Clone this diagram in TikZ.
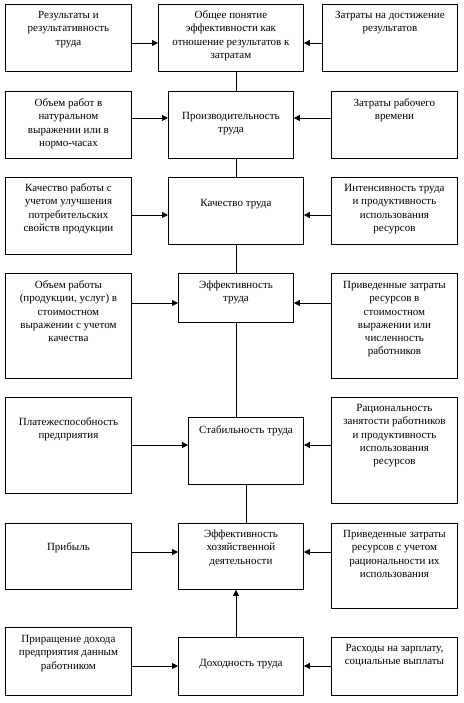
\documentclass[tikz,border=0pt]{standalone}
\usepackage{fontspec}
\setmainfont{Liberation Serif}
\usetikzlibrary{arrows.meta}
\tikzset{
  bx/.style={draw, line width=0.9pt, inner sep=0pt, anchor=north west, font=\fontsize{11}{13.3}\selectfont},
  conn/.style={line width=0.9pt},
  arr/.style={line width=0.9pt, -{Triangle[length=6pt,width=6pt]}}
}
\newcommand{\bx}[7]{\node[bx] (#1) at (#2,#3) {\parbox[c][\dimexpr #5pt - #3pt\relax][t]{\dimexpr #4pt - #2pt\relax}{\centering\rule{0pt}{#6pt}#7}};}
\begin{document}
\begin{tikzpicture}[x=1pt,y=-1pt]
\useasboundingbox (0,0) rectangle (463,703);
\fill[white] (0,0) rectangle (463,703);
% row 1
\bx{L1}{5}{4}{131}{71}{14}{Результаты и\\результативность\\труда}
\bx{C1}{158}{4}{303}{71}{14}{Общее понятие\\эффективности как\\отношение результатов к\\затратам}
\bx{R1}{322}{4}{457}{71}{14}{Затраты на достижение\\результатов}
% row 2
\bx{L2}{5}{91}{131}{158}{15}{Объем работ в\\натуральном\\выражении или в\\нормо-часах}
\bx{C2}{168}{91}{293}{158}{28}{Производительность\\труда}
\bx{R2}{331}{91}{457}{158}{15}{Затраты рабочего\\времени}
% row 3
\bx{L3}{5}{177}{131}{254}{14}{Качество работы с\\учетом улучшения\\потребительских\\свойств продукции}
\bx{C3}{168}{177}{303}{244}{29}{Качество труда}
\bx{R3}{331}{177}{457}{244}{14}{Интенсивность труда\\и продуктивность\\использования\\ресурсов}
% row 4
\bx{L4}{5}{273}{131}{378}{15}{Объем работы\\(продукции, услуг) в\\стоимостном\\выражении с учетом\\качества}
\bx{C4}{178}{273}{293}{322}{15}{Эффективность\\труда}
\bx{R4}{331}{273}{457}{378}{15}{Приведенные затраты\\ресурсов в\\стоимостном\\выражении или\\численность\\работников}
% row 5
\bx{L5}{5}{397}{131}{493}{28}{Платежеспособность\\предприятия}
\bx{C5}{188}{417}{303}{484}{16}{Стабильность труда}
\bx{R5}{331}{397}{457}{503}{14}{Рациональность\\занятости работников\\и продуктивность\\использования\\ресурсов}
% row 6
\bx{L6}{5}{523}{131}{589}{27}{Прибыль}
\bx{C6}{178}{523}{303}{589}{14}{Эффективность\\хозяйственной\\деятельности}
\bx{R6}{331}{523}{457}{608}{14}{Приведенные затраты\\ресурсов с учетом\\рациональности их\\использования}
% row 7
\bx{L7}{5}{627}{131}{695}{15}{Приращение дохода\\предприятия данным\\работником}
\bx{C7}{178}{637}{303}{695}{29}{Доходность труда}
\bx{R7}{331}{637}{457}{695}{14}{Расходы на зарплату,\\социальные выплаты}
% horizontal arrows
\foreach \r/\y in {1/43,2/118,3/215,4/303,5/445,6/552,7/666}{
  \draw[arr] (L\r.east |- 0,\y) -- (C\r.west |- 0,\y);
  \draw[arr] (R\r.west |- 0,\y) -- (C\r.east |- 0,\y);
}
% vertical connectors
\draw[conn] (C1.south -| 236,0) -- (C2.north -| 236,0);
\draw[conn] (C2.south -| 236,0) -- (C3.north -| 236,0);
\draw[conn] (C3.south -| 236,0) -- (C4.north -| 236,0);
\draw[conn] (C4.south -| 236,0) -- (C5.north -| 236,0);
\draw[conn] (C5.south -| 246,0) -- (C6.north -| 246,0);
\draw[arr] (C7.north -| 236,0) -- (C6.south -| 236,0);
\end{tikzpicture}
\end{document}
